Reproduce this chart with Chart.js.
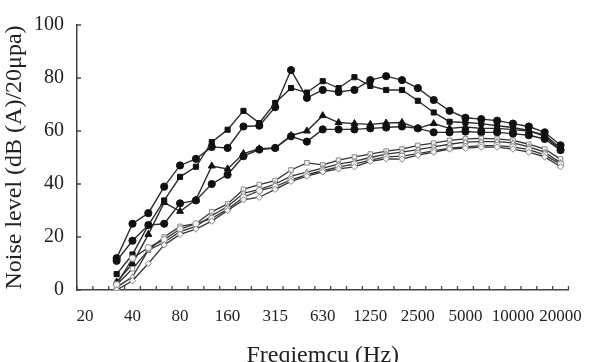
<!DOCTYPE html>
<html>
<head>
<meta charset="utf-8">
<script src="https://cdn.jsdelivr.net/npm/chart.js@4/dist/chart.umd.min.js"></script>
<style>
  html, body { margin: 0; padding: 0; background: #fff; }
  #wrap { width: 598px; height: 362px; }
</style>
</head>
<body>
<div id="wrap"><canvas id="noiseChart" width="598" height="362"></canvas></div>
<script>
// ─── DATA ───
// 1/3-octave band centres (Hz); only every third one gets a label
const bands = ['20', '25', '31.5', '40', '50', '63', '80', '100', '125', '160', '200', '250',
    '315', '400', '500', '630', '800', '1000', '1250', '1600', '2000', '2500', '3150',
    '4000', '5000', '6300', '8000', '10000', '12500', '16000', '20000'];
const labelledBands = ['20', '40', '80', '160', '315', '630', '1250', '2500', '5000', '10000', '20000'];
const yTicks = [0, 20, 40, 60, 80, 100];

// upper group (filled markers)
const seriesCircle = [null, null, 12, 25, 29, 39, 47, 49.5, 54, 53.6, 61.7, 62, 69, 83, 72.5,
    75.5, 74.7, 75.5, 79.2, 80.7, 79.2, 76.2, 71.7, 67.6, 65, 64.5, 63.9, 62.8, 61.7, 59.5, 54.6];
const seriesSquare = [null, null, 6, 13.4, 24.5, 33.8, 42.7, 46.5, 55.8, 60.5, 67.6, 63, 70.6, 76.2, 74.5,
    78.8, 76.2, 80.3, 77, 75.5, 75.5, 71.4, 67, 63.5, 63.2, 62.8, 62, 61.3, 60.2, 58, 52.8];
const seriesTriangle = [null, null, 3, 10, 21, 33, 29.7, 34, 46.8, 45.7, 51.5, 53.3, 53.6, 58.3, 60,
    65.8, 63.2, 62.8, 62.5, 63, 63.2, 61, 62.8, 61, 61.5, 61, 61, 60.5, 60, 58.5, 53.5];
const seriesDot = [null, null, 11, 18.6, 24.5, 25, 32.7, 33.8, 40, 43.5, 50.5, 53, 53.6, 58, 56,
    60.6, 60.6, 60.6, 61, 61.3, 61.7, 61, 59.5, 59.5, 59.8, 59.5, 59.5, 59, 58.4, 57, 52.8];

// lower group (open markers)
const seriesOpenSquare = [null, null, 2, 8, 15, 20, 24, 25, 29.5, 32.5, 38, 39.8, 41.3, 45.3, 48,
    47.2, 49, 50.2, 51.3, 52.4, 53.2, 54.6, 55.4, 56.5, 57, 57.2, 57, 56.5, 55, 53.2, 49.4];
const seriesOpenTriangle = [null, null, 1, 5, 15, 18, 22, 24, 28, 31.5, 36.5, 38, 40, 43, 44.5,
    46, 47.5, 48.5, 50, 51.3, 52, 53, 54, 55, 55.8, 56, 56, 55.5, 54, 52, 48];
const seriesOpenCircle = [null, null, 2, 12, 16, 19, 23, 25, 27, 30.5, 35, 37.5, 39, 41.6, 43.5,
    45, 46.5, 47.5, 49, 50.2, 50.5, 51.5, 52.5, 53.5, 54, 54.5, 54.5, 54, 53, 51, 47.5];
const seriesOpenDiamond = [null, null, 0, 3.5, 10, 17, 21, 23, 26, 30, 34, 35, 38, 41, 43,
    44.6, 45.7, 46.5, 48.5, 49.5, 49.4, 50.9, 52, 53.2, 53.5, 53.9, 53.9, 53.2, 52, 50.2, 46.5];

const serif = "'Liberation Serif', 'Times New Roman', serif";

function filled(data, style) {
    return {
        data: data,
        borderColor: '#2b2b2b',
        borderWidth: 1.4,
        pointStyle: style,
        pointRadius: style === 'triangle' ? 4 : 3.6,
        pointBackgroundColor: '#111',
        pointBorderColor: '#111',
        pointBorderWidth: 1,
        tension: 0,
        spanGaps: false
    };
}

function open(data, style) {
    return {
        data: data,
        borderColor: '#333',
        borderWidth: 1.3,
        pointStyle: style,
        pointRadius: 3.2,
        pointBackgroundColor: '#f4f4f4',
        pointBorderColor: '#8a8a8a',
        pointBorderWidth: 1,
        tension: 0,
        spanGaps: false
    };
}

// ─── INSIDE TICK MARKS (Excel style) ───
const insideTicks = {
    id: 'insideTicks',
    afterDraw(chart) {
        const ctx = chart.ctx;
        const x = chart.scales.x;
        const y = chart.scales.y;
        const area = chart.chartArea;
        const step = (x.getPixelForValue(1) - x.getPixelForValue(0));
        ctx.save();
        ctx.strokeStyle = '#444';
        ctx.lineWidth = 1.3;
        ctx.beginPath();
        for (let i = 0; i <= bands.length; i++) {
            const px = x.getPixelForValue(0) - step / 2 + i * step;
            ctx.moveTo(px, area.bottom);
            ctx.lineTo(px, area.bottom - 4);
        }
        yTicks.forEach(v => {
            const py = y.getPixelForValue(v);
            ctx.moveTo(area.left, py);
            ctx.lineTo(area.left + 4, py);
        });
        ctx.stroke();
        ctx.restore();
    }
};

// ─── CREATE THE CHART ───
const ctx = document.getElementById('noiseChart').getContext('2d');
const noiseChart = new Chart(ctx, {
    type: 'line',
    data: {
        labels: bands,
        datasets: [
            open(seriesOpenDiamond, 'rectRot'),
            open(seriesOpenCircle, 'circle'),
            open(seriesOpenTriangle, 'triangle'),
            open(seriesOpenSquare, 'rect'),
            filled(seriesDot, 'circle'),
            filled(seriesTriangle, 'triangle'),
            filled(seriesSquare, 'rect'),
            filled(seriesCircle, 'circle')
        ]
    },
    options: {
        responsive: false,
        animation: false,
        layout: { padding: { top: 21, right: 13, bottom: -8, left: 0 } },
        plugins: {
            legend: { display: false },
            tooltip: { enabled: false }
        },
        scales: {
            x: {
                type: 'category',
                offset: true,
                grid: { display: true, offset: true, drawOnChartArea: false, drawTicks: false, color: 'rgba(0,0,0,0)' },
                border: { display: true, color: '#444', width: 1.5 },
                ticks: {
                    autoSkip: false,
                    maxRotation: 0,
                    padding: 16,
                    color: '#222',
                    font: { family: serif, size: 17 },
                    callback: function (value) {
                        const lab = this.getLabelForValue(value);
                        return labelledBands.includes(lab) ? lab : '';
                    }
                },
                title: {
                    display: true,
                    text: 'Freqiemcu (Hz)',
                    color: '#222',
                    font: { family: serif, size: 24 },
                    padding: 0
                },
                afterFit(scale) { scale.height = 80; }
            },
            y: {
                min: 0,
                max: 100,
                afterBuildTicks(scale) { scale.ticks = yTicks.map(v => ({ value: v })); },
                grid: { display: false, drawTicks: false },
                border: { display: true, color: '#444', width: 1.5 },
                ticks: {
                    padding: 13,
                    color: '#222',
                    font: { family: serif, size: 20 }
                },
                title: {
                    display: true,
                    text: 'Noise level (dB (A)/20\u03BCpa)',
                    color: '#222',
                    font: { family: serif, size: 24 },
                    padding: { top: 0, bottom: 4 }
                },
                afterFit(scale) { scale.width = 77; }
            }
        }
    },
    plugins: [insideTicks]
});
</script>
</body>
</html>
